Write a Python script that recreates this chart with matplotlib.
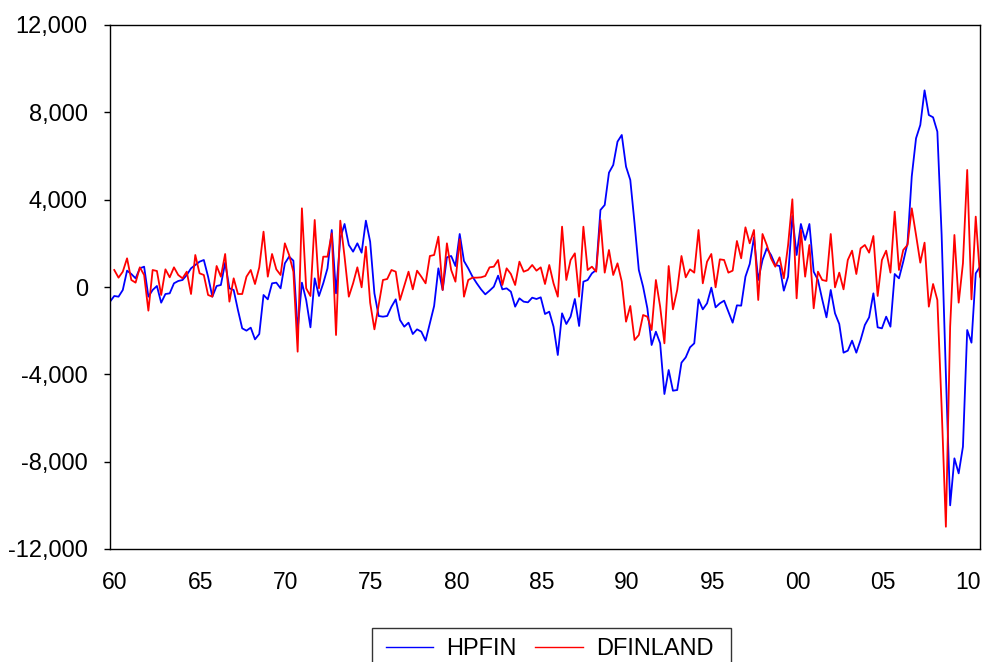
import numpy as np
import matplotlib
matplotlib.use("Agg")
import matplotlib.pyplot as plt
from matplotlib.patches import Rectangle
from matplotlib.ticker import FuncFormatter

plt.rcParams['font.family'] = ['Liberation Sans', 'DejaVu Sans']

# quarterly data, 1960Q1 onwards
start_year = 1960

hpfin = [
    -672, -412, -443, -137, 748, 595, 397, 855, 931, -443, -137, 46, -718,
    -321, -290, 168, 275, 321, 550, 855, 1008, 1160, 1237, 473, -443, 46,
    92, 1115, -61, -137, -1054, -1893, -2000, -1862, -2398, -2153, -366, -565, 168,
    199, -61, 1084, 1389, 1206, -1970, 199, -595, -1847, 397, -412, 168, 855,
    2611, -290, 2229, 2886, 1924, 1619, 2000, 1573, 3039, 2076, -290, -1328, -1359,
    -1328, -901, -565, -1512, -1817, -1634, -2153, -1939, -2046, -2458, -1664, -870, 855,
    -137, 1359, 1420, 962, 2428, 1191, 855, 473, 168, -107, -336, -168, 15,
    519, -107, -61, -214, -901, -519, -672, -702, -489, -550, -473, -1237, -1130,
    -1817, -3115, -1206, -1695, -1359, -550, -1786, 244, 321, 626, 779, 3527, 3756,
    5237, 5589, 6657, 6963, 5512, 4902, 2917, 779, 15, -977, -2657, -2046, -2580,
    -4902, -3802, -4750, -4718, -3466, -3222, -2764, -2580, -565, -1023, -748, -30, -931,
    -748, -626, -1130, -1634, -840, -855, 473, 1053, 2275, 321, 1237, 1771, 1466,
    1008, 962, -168, 473, 3252, 1466, 2886, 2153, 2886, 702, 321, -565, -1389,
    -137, -1206, -1695, -3008, -2916, -2458, -3008, -2428, -1741, -1389, -290, -1847,
    -1893, -1359, -1817, 595, 397, 1160, 1999, 5069, 6810, 7420, 9007, 7878, 7772,
    7115, 2400, -4000, -10000, -7848, -8536, -7314, -1970, -2550, 626, 931, 855,
]

# first difference, starts one quarter later
dfinland = [
    779, 428, 702, 1313, 321, 199, 901, 550, -1084, 779, 733, -366, 809,
    443, 901, 550, 397, 702, -321, 1466, 626, 550, -366, -443, 962,
    473, 1512, -672, 397, -321, -321, 473, 779, 137, 901, 2535, 473, 1512,
    809, 550, 2000, 1466, 702, -2962, 3603, -61, -412, 3069, -61, 1389, 1389,
    2458, -2199, 3039, 1389, -443, 168, 901, -15, 1847, -718, -1939, -824, 321,
    366, 779, 702, -595, 46, 702, -107, 748, 473, 168, 1420, 1466, 2306,
    -137, 2000, 779, 244, 2184, -443, 321, 428, 428, 443, 504, 901, 931,
    1237, 92, 855, 595, 92, 1160, 702, 779, 1008, 748, 901, 137, 1008,
    168, -443, 2763, 321, 1237, 1542, -443, 2763, 779, 931, 702, 3069, 657,
    1695, 550, 1084, 244, -1588, -870, -2428, -2199, -1283, -1359, -1970, 321, -901,
    -2580, 962, -1023, -137, 1420, 443, 809, 657, 2611, 168, 1160, 1512, -15,
    1267, 1237, 657, 748, 2107, 1313, 2733, 2000, 2611, -595, 2428, 1924, 1313,
    931, 1359, 397, 1924, 4016, -519, 2611, 473, 1924, -977, 702, 321, 275,
    2428, -15, 657, -107, 1237, 1664, 595, 1771, 1924, 1573, 2336, -412,
    1237, 1664, 657, 3451, 779, 1695, 1924, 3603, 2382, 1115, 2031, -901, 137,
    -595, -5500, -10980, -1817, 2382, -718, 1084, 5360, -565, 3222, 473, 92,
]

tick_years = [1960, 1965, 1970, 1975, 1980, 1985, 1990, 1995, 2000, 2005, 2010]
tick_labels = ['60', '65', '70', '75', '80', '85', '90', '95', '00', '05', '10']

x_hp = start_year + np.arange(len(hpfin)) / 4
x_df = start_year + (np.arange(len(dfinland)) + 1) / 4

fig = plt.figure(figsize=(9.82, 6.62), dpi=100)
ax = fig.add_axes([110 / 982, 1 - 549 / 662, 870 / 982, 524 / 662])

ax.plot(x_hp, hpfin, color='#0000ff', lw=1.3, label='HPFIN')
ax.plot(x_df, dfinland, color='#ff0000', lw=1.3, label='DFINLAND')

ax.set_xlim(1960, 2011)
ax.set_ylim(-12000, 12000)
ax.set_yticks(range(-12000, 12001, 4000))
ax.yaxis.set_major_formatter(FuncFormatter(lambda v, p: f'{v:,.0f}'))
ax.set_xticks([y + 0.3 for y in tick_years])
ax.set_xticklabels(tick_labels)

ax.tick_params(axis='y', labelsize=17, direction='out', length=4, width=1, color='black', pad=12)
ax.tick_params(axis='x', labelsize=16.5, length=0, pad=16)
for sp in ax.spines.values():
    sp.set_linewidth(1.0)
    sp.set_color('black')

# legend: entries without frame, box drawn separately (runs off the bottom edge)
leg = fig.legend(loc='upper left', bbox_to_anchor=(386 / 982, 1 - 638 / 662), ncol=2,
                 frameon=False, fontsize=17,
                 handlelength=2.0, handletextpad=0.55, columnspacing=0.8,
                 borderpad=0, borderaxespad=0)
for line in leg.get_lines():
    line.set_linewidth(1.0)
fig.patches.append(Rectangle((372 / 982, 1 - 672 / 662), (731 - 372) / 982, 44 / 662,
                             transform=fig.transFigure, fill=False,
                             edgecolor='#333333', linewidth=1.0, clip_on=False))

fig.savefig('out.png', dpi=100)
